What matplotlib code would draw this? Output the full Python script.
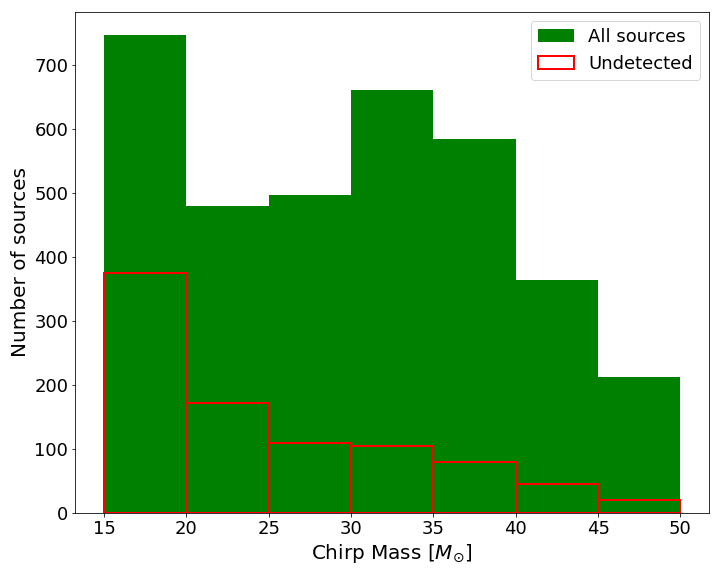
import matplotlib
matplotlib.use("Agg")
import matplotlib.pyplot as plt
import numpy as np

bin_edges = [15, 20, 25, 30, 35, 40, 45, 50]
all_counts = [747, 480, 497, 661, 585, 365, 213]
undetected_counts = [376, 173, 110, 105, 80, 46, 21]


def main():
    left_edges = np.array(bin_edges[:-1])

    fig, ax = plt.subplots(figsize=(10, 8), dpi=72)
    fig.subplots_adjust(left=0.1046, right=0.985, top=0.980, bottom=0.109)

    ax.hist(left_edges, bins=bin_edges, weights=all_counts,
            color='green', label='All sources')
    ax.hist(left_edges, bins=bin_edges, weights=undetected_counts,
            histtype='bar', fill=False, edgecolor='red', linewidth=2,
            label='Undetected')

    ax.set_xlabel(r'Chirp Mass [$M_{\odot}$]', fontsize=20)
    ax.set_ylabel('Number of sources', fontsize=20)
    ax.tick_params(labelsize=18)
    ax.legend(fontsize=18, loc='upper right')

    fig.savefig('out.png', dpi=72)


if __name__ == '__main__':
    main()
